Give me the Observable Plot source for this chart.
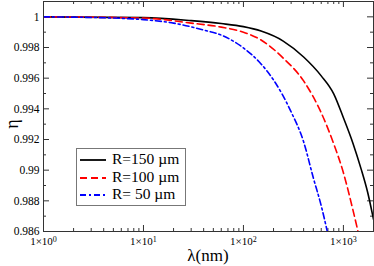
<!DOCTYPE html>
<html><head><meta charset="utf-8">
<script src="https://cdn.jsdelivr.net/npm/d3@7"></script>
<script src="https://cdn.jsdelivr.net/npm/@observablehq/plot@0.6"></script>
<style>
body{margin:0;background:#fff;}
#wrap{position:relative;width:374px;height:266px;font-family:"Liberation Serif","Times New Roman",Times,"DejaVu Serif",serif;overflow:hidden;}
#legend{position:absolute;left:76px;top:148px;width:110px;height:58px;border:1px solid #777;background:#fff;box-sizing:border-box;}
.row{position:absolute;left:0;height:16px;width:108px;}
.row svg{position:absolute;left:2px;top:0;}
.row span{position:absolute;left:35px;top:-1px;font-size:15.5px;line-height:16px;color:#000;white-space:pre;}
#ytitle{position:absolute;left:1px;top:113px;width:22px;height:22px;line-height:22px;text-align:center;font-size:18px;transform:rotate(-90deg);transform-origin:center;}
#xtitle{position:absolute;left:158px;top:246px;width:100px;text-align:center;font-size:17px;}
</style>
</head><body>
<div id="wrap">
<div id="chart"></div>
<div id="ytitle">η</div>
<div id="xtitle">λ(nm)</div>
<div id="legend"></div>
</div>
<script>
// Data
const lambdaBlack = [1,10,30,60,100,150,250,400,600,800,1000,1250,1500,1750,2000];
const etaBlack = [1,0.99995,0.99975,0.99956,0.99936,0.99907,0.99842,0.99738,0.99615,0.99498,0.99342,0.99173,0.9901,0.98854,0.98679];
const lambdaRed = [1,10,30,60,100,150,250,400,600,800,1000,1250,1400];
const etaRed = [1,0.99992,0.99959,0.99933,0.999,0.99849,0.99731,0.99582,0.99374,0.99172,0.98983,0.98736,0.986];
const lambdaBlue = [1,5,10,20,40,60,100,150,200,300,400,500,600,690];
const etaBlue = [1,0.99992,0.99982,0.99959,0.99914,0.99881,0.99797,0.99693,0.99588,0.9938,0.99185,0.9895,0.98768,0.986];
const seriesNames = ["R=150 µm","R=100 µm","R= 50 µm"];
const seriesColors = ["#000000","#ff0000","#0000ff"];
const seriesDash = [null,"7,4","6,3,2,3"];

const yMajor = [0.986,0.988,0.99,0.992,0.994,0.996,0.998,1];
const yMinor = [0.987,0.989,0.991,0.993,0.995,0.997,0.999];
const xMajor = [1,10,100,1000];
const xMinor = [2,3,4,5,6,7,8,9,20,30,40,50,60,70,80,90,200,300,400,500,600,700,800,900];
const xExp = {1:0,10:1,100:2,1000:3};

const W = 374, H = 266;
const mL = 43, mR = 1, mT = 1, mB = 35;
const pw = W - mL - mR, ph = H - mT - mB;
const FONT = '"Liberation Serif","Times New Roman",Times,"DejaVu Serif",serif';

const toRows = (ls, es) => ls.map((l,i)=>({l, e: es[i]}));
const black = toRows(lambdaBlack, etaBlack);
const red = toRows(lambdaRed, etaRed);
const blue = toRows(lambdaBlue, etaBlue);

const chart = Plot.plot({
  width: W, height: H,
  marginLeft: mL, marginRight: mR, marginTop: mT, marginBottom: mB,
  style: {fontFamily: FONT, fontSize: "11.5px", background: "#fff", color: "#000"},
  x: {type: "log", domain: [1, 2000], ticks: xMajor, tickSize: 0, tickPadding: 6,
      tickFormat: d => "1×10^" + xExp[d], label: null},
  y: {domain: [0.986, 1.001], ticks: yMajor, tickSize: 0, tickPadding: 4,
      tickFormat: d => String(d), label: null},
  marks: [
    Plot.tickY(yMajor, {y: d=>d, insetRight: pw-6, stroke: "#333"}),
    Plot.tickY(yMinor, {y: d=>d, insetRight: pw-3, stroke: "#333"}),
    Plot.tickY(yMajor, {y: d=>d, insetLeft: pw-6, stroke: "#333"}),
    Plot.tickY(yMinor, {y: d=>d, insetLeft: pw-3, stroke: "#333"}),
    Plot.tickX(xMajor, {x: d=>d, insetTop: ph-6, stroke: "#333"}),
    Plot.tickX(xMinor, {x: d=>d, insetTop: ph-3, stroke: "#333"}),
    Plot.tickX(xMajor, {x: d=>d, insetBottom: ph-6, stroke: "#333"}),
    Plot.tickX(xMinor, {x: d=>d, insetBottom: ph-3, stroke: "#333"}),
    Plot.line(black, {x: "l", y: "e", stroke: seriesColors[0], strokeWidth: 1.6, curve: "monotone-x", clip: true}),
    Plot.line(red, {x: "l", y: "e", stroke: seriesColors[1], strokeWidth: 1.6, strokeDasharray: seriesDash[1], curve: "monotone-x", clip: true}),
    Plot.line(blue, {x: "l", y: "e", stroke: seriesColors[2], strokeWidth: 1.6, strokeDasharray: seriesDash[2], curve: "monotone-x", clip: true}),
    Plot.frame({stroke: "#333", strokeWidth: 1})
  ]
});
document.getElementById("chart").appendChild(chart);

// superscript exponents in x tick labels
chart.querySelectorAll("text").forEach(t => {
  const m = /^1×10\^(\d)$/.exec(t.textContent);
  if (m) {
    t.textContent = "1×10";
    t.setAttribute("font-size", "11px");
    const ts = document.createElementNS("http://www.w3.org/2000/svg", "tspan");
    ts.setAttribute("dy", "-0.45em");
    ts.setAttribute("font-size", "8px");
    ts.textContent = m[1];
    t.appendChild(ts);
  }
});

// legend
const leg = document.getElementById("legend");
seriesNames.forEach((name, i) => {
  const row = document.createElement("div");
  row.className = "row";
  row.style.top = (3 + i*17.5) + "px";
  const dash = seriesDash[i] ? ` stroke-dasharray="${seriesDash[i]}"` : "";
  row.innerHTML = `<svg width="28" height="16"><line x1="1" y1="8" x2="27" y2="8" stroke="${seriesColors[i]}" stroke-width="1.8"${dash}/></svg><span>${name}</span>`;
  leg.appendChild(row);
});
</script>
</body></html>
